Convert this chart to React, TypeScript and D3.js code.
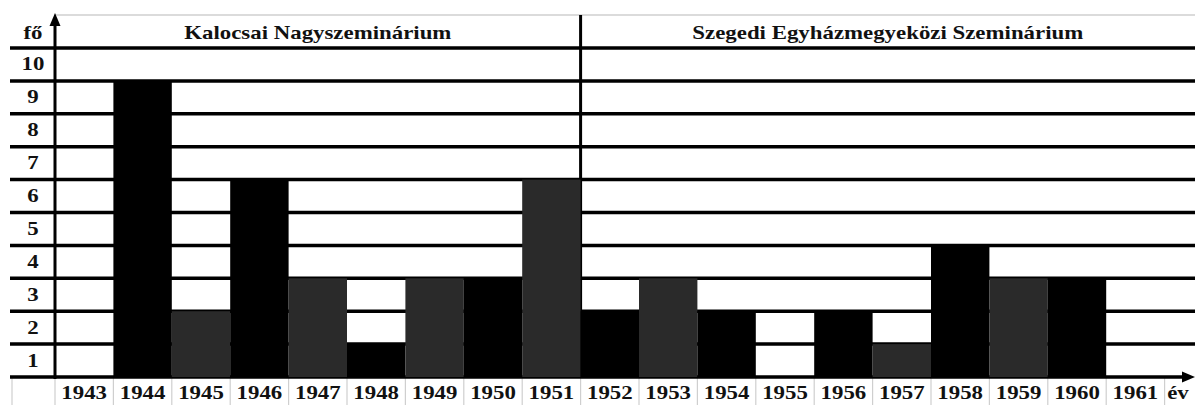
import React from "react";
import * as d3 from "d3";

const years = ["1943","1944","1945","1946","1947","1948","1949","1950","1951","1952","1953","1954","1955","1956","1957","1958","1959","1960","1961"];
const values = [0, 9, 2, 6, 3, 1, 3, 3, 6, 2, 3, 2, 0, 2, 1, 4, 3, 3, 0];
const yTicks = [1, 2, 3, 4, 5, 6, 7, 8, 9, 10];
const sectionTitles = ["Kalocsai Nagyszeminárium", "Szegedi Egyházmegyeközi Szeminárium"];
const sectionStartYears = ["1943", "1952"];
const yAxisLabel = "fő";
const xAxisLabel = "év";

const W = 1195, H = 405;
const left = 55, colW = 58.4;
const top = 48, bottom = 377;
const headerTop = 15;
const SX = 1.27;
const font = "Liberation Serif";

export default function App() {
  const x = d3.scaleBand<string>().domain(years).range([left, left + colW * years.length]).padding(0);
  const y = d3.scaleLinear().domain([0, 10]).range([bottom, top]);
  const bw = x.bandwidth();
  const divX = x(sectionStartYears[1])!;
  const sectionBounds = [[left, divX], [divX, W]];
  const gridVals = d3.range(0, 11);

  const txt = (s: string, cx: number, by: number, size = 18, key?: any) => (
    <text key={key} transform={`translate(${cx},${by}) scale(${SX},1)`} textAnchor="middle"
      style={{ fontFamily: "'Liberation Serif', 'DejaVu Serif', serif", fontWeight: 700, fontSize: size }} fill="#111">{s}</text>
  );

  return (
    <svg width={W} height={H} style={{ position: "fixed", left: 0, top: 0, background: "#fff" }}>
      <line x1={left} x2={W} y1={headerTop} y2={headerTop} stroke="#cfcfcf" strokeWidth={1.5} />
      {[12, ...years.map(d => x(d)!), x(years[years.length - 1])! + bw].map((vx, i) => (
        <line key={"c" + i} x1={vx} x2={vx} y1={bottom} y2={H} stroke="#cfcfcf" strokeWidth={1.2} />
      ))}
      {gridVals.map(v => (
        <line key={"g" + v} x1={10} x2={v === 0 ? 1186 : W} y1={y(v)} y2={y(v)} stroke="#000" strokeWidth={3.5} />
      ))}
      <line x1={divX} x2={divX} y1={headerTop} y2={bottom} stroke="#000" strokeWidth={3} />
      {years.map((d, i) => values[i] > 0 ? (
        <rect key={"b" + d} x={x(d)} y={y(values[i])} width={bw} height={bottom - y(values[i])}
          fill={(+d) % 2 === 0 ? "#000" : "#2a2a2a"} />
      ) : null)}
      <line x1={left} x2={left} y1={bottom + 2} y2={22} stroke="#000" strokeWidth={3} />
      <path d={`M${left - 5.5},${26} L${left},${13} L${left + 5.5},${26} Z`} fill="#000" />
      <path d={`M1182,${bottom - 5.5} L1195,${bottom} L1182,${bottom + 5.5} Z`} fill="#000" />
      {yTicks.map(v => txt(String(v), 33, (y(v) + y(v - 1)) / 2 + 6, 18, "y" + v))}
      {txt(yAxisLabel, 33, 38.5, 18)}
      {sectionTitles.map((t, i) => txt(t, (sectionBounds[i][0] + sectionBounds[i][1]) / 2, 38.5, 18, "s" + i))}
      {years.map(d => txt(d, x(d)! + bw / 2, 399, 18, "x" + d))}
      {txt(xAxisLabel, 1178, 399, 18)}
    </svg>
  );
}
